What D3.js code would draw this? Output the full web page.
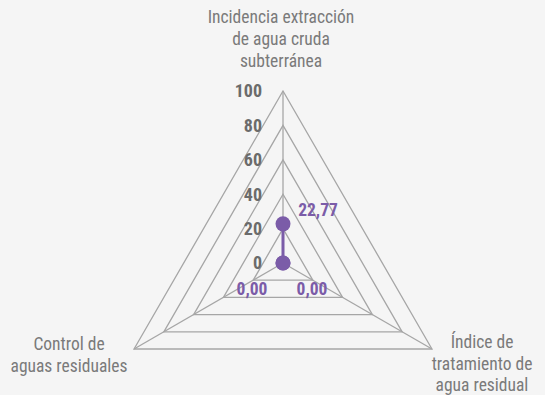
<!DOCTYPE html>
<html>
<head>
<meta charset="utf-8">
<script src="https://cdn.jsdelivr.net/npm/d3@7"></script>
<style>
  html, body { margin: 0; padding: 0; background: #f5f5f5; }
  svg { display: block; }
  text { font-family: "Roboto Condensed", "Liberation Sans Narrow", "Arial Narrow", "Liberation Sans", sans-serif; }
</style>
</head>
<body>
<svg id="chart" width="545" height="395"></svg>
<script>
const axes = [
  ["Incidencia extracción", "de agua cruda", "subterránea"],
  ["Índice de", "tratamiento de", "agua residual"],
  ["Control de", "aguas residuales"]
];
const values = [22.77, 0.00, 0.00];
const tickValues = [0, 20, 40, 60, 80, 100];
const valueLabels = ["22,77", "0,00", "0,00"];

const W = 545, H = 395;
const cx = 283, cy = 263, R = 172;
const svg = d3.select("#chart");
svg.append("rect").attr("width", W).attr("height", H).attr("fill", "#f5f5f5");

const r = d3.scaleLinear().domain([0, 100]).range([0, R]);
const angle = d3.scaleLinear().domain([0, axes.length]).range([-Math.PI / 2, 1.5 * Math.PI]);
const pt = (i, v) => [cx + r(v) * Math.cos(angle(i)), cy + r(v) * Math.sin(angle(i))];

const g = svg.append("g");
const gridColor = "#a6a6a6";

// grid triangles
tickValues.filter(t => t > 0).forEach(t => {
  const pts = axes.map((_, i) => pt(i, t));
  g.append("path")
    .attr("d", d3.line()(pts) + "Z")
    .attr("fill", "none")
    .attr("stroke", gridColor)
    .attr("stroke-width", 1.3);
});
// spokes
axes.forEach((_, i) => {
  const [x, y] = pt(i, 100);
  g.append("line").attr("x1", cx).attr("y1", cy).attr("x2", x).attr("y2", y)
    .attr("stroke", gridColor).attr("stroke-width", 1.3);
});

// tick labels
g.selectAll("text.tick").data(tickValues).join("text")
  .attr("class", "tick")
  .attr("x", cx - 21)
  .attr("y", d => cy - r(d))
  .attr("dy", "0.36em")
  .attr("text-anchor", "end")
  .attr("font-size", 18)
  .attr("font-weight", "bold")
  .attr("fill", "#6b6b6b")
  .text(d => d);

// axis labels (baseline positions)
const labelPos = [
  { x: 281, y: 23, lh: 22 },
  { x: 482, y: 348, lh: 21.5 },
  { x: 69, y: 350, lh: 21.5 }
];
axes.forEach((lines, i) => {
  const p = labelPos[i];
  const t = g.append("text")
    .attr("text-anchor", "middle")
    .attr("font-size", 17.5)
    .attr("fill", "#7a7a7a");
  lines.forEach((ln, k) => {
    t.append("tspan").attr("x", p.x).attr("y", p.y + k * p.lh).text(ln);
  });
});

// series
const purple = "#7b5ca8";
const seriesPts = values.map((v, i) => pt(i, v));
g.append("path")
  .attr("d", d3.line()(seriesPts) + "Z")
  .attr("fill", "none")
  .attr("stroke", purple)
  .attr("stroke-width", 3)
  .attr("stroke-linejoin", "round");
g.selectAll("circle.pt").data(seriesPts).join("circle")
  .attr("class", "pt")
  .attr("cx", d => d[0]).attr("cy", d => d[1])
  .attr("r", 7.5)
  .attr("fill", purple);

const labelOffsets = [[35, -14], [29, 26], [-31, 26]];
g.selectAll("text.val").data(values).join("text")
  .attr("class", "val")
  .attr("x", (d, i) => seriesPts[i][0] + labelOffsets[i][0])
  .attr("y", (d, i) => seriesPts[i][1] + labelOffsets[i][1])
  .attr("dy", "0.36em")
  .attr("text-anchor", "middle")
  .attr("font-size", 17.5)
  .attr("font-weight", "bold")
  .attr("fill", purple)
  .text((d, i) => valueLabels[i]);
</script>
</body>
</html>
